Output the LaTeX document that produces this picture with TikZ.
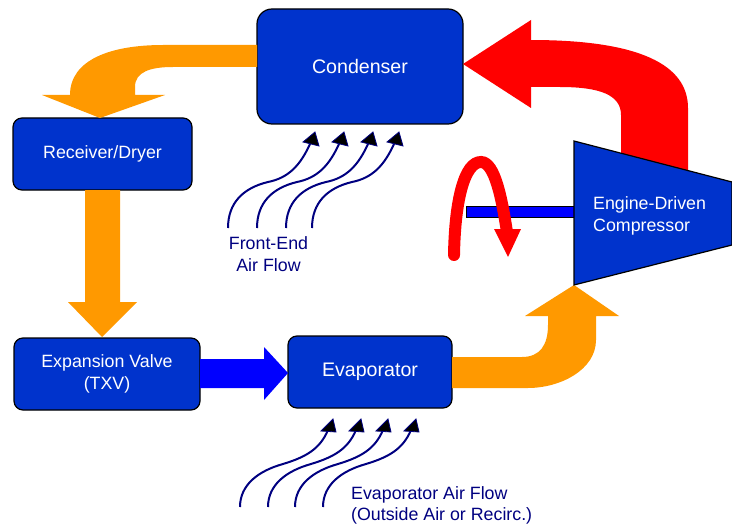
\documentclass[tikz,border=0pt]{standalone}
\usepackage{fontspec}
\setmainfont{Liberation Sans}
\usetikzlibrary{arrows.meta}
\definecolor{boxblue}{RGB}{0,51,204}
\definecolor{flowor}{RGB}{255,153,0}
\definecolor{flowred}{RGB}{255,0,0}
\definecolor{flowblue}{RGB}{0,0,255}
\definecolor{airnavy}{RGB}{0,0,128}
\newcommand{\smallfont}{\fontsize{17.8}{21.5}\selectfont}
\newcommand{\bigfont}{\fontsize{19.6}{23}\selectfont}
\tikzset{
    unit/.style={draw=black, line width=1.2pt, fill=boxblue, text=white, rounded corners=9pt, align=center, inner sep=0pt, font=\smallfont}, % component boxes
    airflow/.style={draw=airnavy, line width=2pt}, % wavy air streams
    airtip/.style={fill=black, draw=airnavy, line width=0.8pt, line join=miter},
    airtext/.style={text=airnavy, font=\smallfont, inner sep=0pt},
}
\begin{document}
\begin{tikzpicture}[x=1pt, y=-1pt]
    \useasboundingbox (0,0) rectangle (732,527);

    % Components
    \node[unit, minimum width=206pt, minimum height=115pt, rounded corners=15pt, font=\bigfont] (cond) at (360,66.5) {Condenser};
    \node[unit, minimum width=179pt, minimum height=72pt] (recv) at (102.5,154) {Receiver/Dryer};
    \node[unit, minimum width=186pt, minimum height=72pt] (txv) at (107,374) {Expansion Valve\\(TXV)};
    \node[unit, minimum width=164pt, minimum height=72pt, font=\bigfont] (evap) at (370,372) {Evaporator};

    % Refrigerant flow
    \fill[flowor] (257,45) -- (163,45) .. controls (110,45) and (70,60) .. (70,95) -- (42,95) -- (100,118) -- (165,95) -- (135,95) -- (135,87) .. controls (135,72) and (150,67) .. (173,67) -- (257,67) -- cycle;
    \fill[flowor] (85,190) -- (85,302) -- (68,302) -- (102,337) -- (137,302) -- (120,302) -- (120,190) -- cycle;
    \fill[flowblue] (200,359) -- (264,359) -- (264,347) -- (288,373) -- (264,400) -- (264,388) -- (200,388) -- cycle;
    \fill[flowor] (452,357) -- (522,357) .. controls (540,357) and (548,345) .. (548,325) -- (548,316) -- (525,316) -- (574,285) -- (619,316) -- (596,316) -- (596,340) .. controls (596,370) and (560,388) .. (528,388) -- (452,388) -- cycle;
    \fill[flowred] (621,175) -- (621,115) .. controls (621,95) and (600,87) .. (560,87) -- (531,87) -- (531,108) -- (463,64) -- (531,20) -- (531,40) .. controls (640,40) and (688,65) .. (688,108) -- (688,175) -- cycle;

    % Compressor and shaft
    \filldraw[fill=flowblue, draw=black, line width=0.8pt] (466,206) rectangle (574,217);
    \draw[flowred, line width=12pt, line cap=round] (454,255) .. controls (455,198) and (465,162) .. (481,162) .. controls (495,162) and (502,200) .. (507,232);
    \fill[flowred] (494,229) -- (521,229) -- (508,257) -- cycle;
    \filldraw[fill=boxblue, draw=black, line width=1.2pt] (574,141) -- (732,182) -- (732,245) -- (574,285) -- cycle;
    \node[anchor=west, align=left, text=white, font=\smallfont, inner sep=0pt] (comp) at (593,216) {Engine-Driven\\Compressor};

    % Air flow
    \foreach \sx in {228,257,286,312} {
        \begin{scope}[shift={(\sx,228)}]
            \draw[airflow] (0,0) .. controls (0,-25) and (15,-40) .. (40,-46) .. controls (60,-50) and (72,-62) .. (82,-84);
            \filldraw[airtip] (87,-96) -- (75,-86) -- (91,-82) -- cycle;
        \end{scope}
    }
    \foreach \sx in {240,268,295,323} {
        \begin{scope}[shift={(\sx,507)}]
            \draw[airflow] (0,0) .. controls (0,-22) and (18,-36) .. (43,-43) .. controls (66,-50) and (80,-58) .. (88,-77);
            \filldraw[airtip] (93,-88) -- (81,-76) -- (96,-75) -- cycle;
        \end{scope}
    }
    \node[airtext, align=center] (frontair) at (268.5,254) {Front-End\\Air Flow};
    \node[airtext, align=left, anchor=west] (evapair) at (351,505.5) {Evaporator Air Flow\\(Outside Air or Recirc.)};
\end{tikzpicture}
\end{document}
